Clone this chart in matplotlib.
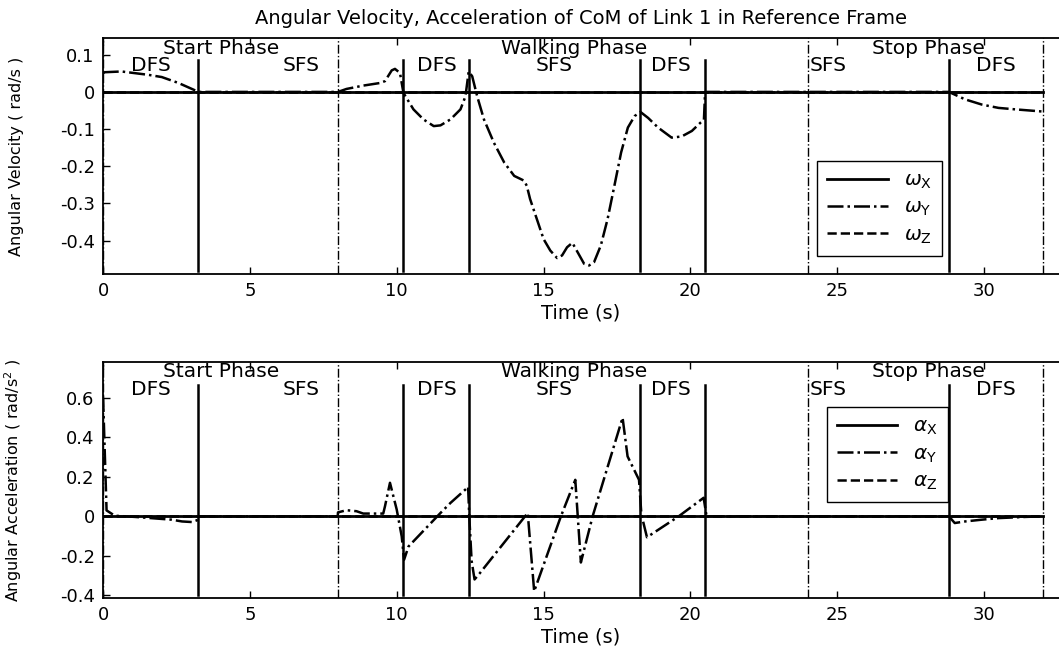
"""
Angular velocity / acceleration of the CoM of link 1,
redrawn from a scanned MATLAB figure.
"""

import matplotlib
matplotlib.use("Agg")
import matplotlib.pyplot as plt


OUT_FILE = "out.png"

# --- data ---------------------------------------------------------------
# zero traces (x and z components)
t_flat = [0.0, 32.0]
w_x = [0.0, 0.0]
w_z = [0.0, 0.0]
a_x = [0.0, 0.0]
a_z = [0.0, 0.0]

# omega_Y (rad/s)
t_wy = [0.0, 0.06, 0.63, 1.54, 2.0, 2.57, 3.14, 3.25, 8.0, 8.29, 8.86,
        9.43, 9.6, 9.83, 9.94, 10.11, 10.23, 10.57, 10.91, 11.26, 11.49,
        11.83, 12.17, 12.34, 12.45, 12.57, 12.74, 12.97, 13.31, 13.66,
        14.0, 14.34, 14.43, 14.54, 14.77, 15.0, 15.23, 15.46, 15.63, 15.8,
        15.98, 16.15, 16.38, 16.55, 16.72, 16.95, 17.18, 17.41, 17.64,
        17.87, 18.1, 18.3, 18.56, 18.9, 19.36, 19.7, 20.05, 20.34, 20.46,
        20.5, 28.8, 29.35, 29.92, 30.49, 31.07, 31.87, 32.0]
w_y = [0.05, 0.053, 0.055, 0.046, 0.040, 0.024, 0.004, 0.0, 0.0, 0.008,
       0.017, 0.024, 0.029, 0.058, 0.062, 0.051, -0.003, -0.047, -0.074,
       -0.092, -0.090, -0.074, -0.047, -0.012, 0.055, 0.042, -0.012,
       -0.074, -0.137, -0.19, -0.226, -0.239, -0.253, -0.288, -0.342,
       -0.396, -0.427, -0.447, -0.44, -0.418, -0.406, -0.43, -0.4625,
       -0.467, -0.458, -0.413, -0.342, -0.253, -0.163, -0.096, -0.065,
       -0.054, -0.07, -0.096, -0.123, -0.12, -0.105, -0.083, -0.075, 0.0,
       0.0, -0.02, -0.034, -0.043, -0.047, -0.052, -0.053]

# alpha_Y (rad/s^2)
t_ay = [0.0, 0.12, 0.4, 1.09, 1.89, 2.34, 2.69, 3.03, 3.2, 3.25, 7.99,
        8.0, 8.29, 8.63, 8.86, 9.2, 9.54, 9.6, 9.77, 10.0, 10.17, 10.25,
        10.4, 11.49, 11.83, 12.34, 12.43, 12.47, 12.55, 12.65, 12.82,
        14.46, 14.68, 15.59, 16.08, 16.27, 16.67, 17.69, 17.86, 18.25,
        18.33, 18.52, 19.6, 20.45, 20.55, 28.8, 29.0, 29.35, 29.92, 30.49,
        31.4, 32.0]
a_y = [0.61, 0.03, 0.003, -0.003, -0.012, -0.017, -0.026, -0.029, -0.02,
       0.0, 0.0, 0.02, 0.031, 0.026, 0.014, 0.014, 0.014, 0.051, 0.17,
       0.034, -0.102, -0.22, -0.153, 0.017, 0.068, 0.136, 0.15, 0.0,
       -0.226, -0.32, -0.29, 0.017, -0.38, 0.0, 0.185, -0.234, 0.0, 0.5,
       0.304, 0.185, 0.01, -0.106, 0.0, 0.094, 0.0, 0.0, -0.034, -0.026,
       -0.017, -0.009, -0.003, 0.0]

# phase boundaries and labels
phase_lines = [0.0, 8.0, 24.0, 32.0]
step_lines = [3.25, 10.23, 12.45, 18.3, 20.5, 28.8]
phase_names = ["Start Phase", "Walking Phase", "Stop Phase"]
phase_x = [4.03, 16.05, 28.1]
step_names = ["DFS", "SFS", "DFS", "SFS", "DFS", "SFS", "DFS"]
step_x = [1.62, 6.75, 11.35, 15.37, 19.34, 24.68, 30.4]

x_ticks = [0, 5, 10, 15, 20, 25, 30]
vel_ticks = [-0.4, -0.3, -0.2, -0.1, 0, 0.1]
acc_ticks = [-0.4, -0.2, 0, 0.2, 0.4, 0.6]


def fmt(v):
    return "0" if v == 0 else f"{v:g}"


def style_axes(ax, ylim, yticks):
    ax.set_xlim(0, 32.55)
    ax.set_ylim(*ylim)
    ax.set_xticks(x_ticks)
    ax.set_xticklabels([str(v) for v in x_ticks])
    ax.set_yticks(yticks)
    ax.set_yticklabels([fmt(v) for v in yticks])
    ax.tick_params(direction="in", length=5, width=1, labelsize=13,
                   top=True, pad=6)
    ax.spines["right"].set_visible(False)
    for s in ("left", "top", "bottom"):
        ax.spines[s].set_linewidth(1.3)
    ax.set_xlabel("Time (s)", fontsize=14, labelpad=2)


def draw_phases(ax, step_lo, step_hi, name_y, step_y):
    for x in phase_lines:
        ax.axvline(x, color="black", lw=1.0, ls="-.", zorder=1)
    for x in step_lines:
        ax.plot([x, x], [step_lo, step_hi], color="black", lw=1.8, zorder=1)
    for name, x in zip(phase_names, phase_x):
        ax.text(x, name_y, name, ha="center", va="center", fontsize=14.5)
    for name, x in zip(step_names, step_x):
        ax.text(x, step_y, name, ha="center", va="center", fontsize=14.5)


def add_legend(ax, anchor):
    ax.legend(loc="upper left", bbox_to_anchor=anchor, borderaxespad=0,
              fontsize=14.5, frameon=True, fancybox=False,
              edgecolor="black", framealpha=1, handlelength=3.0,
              labelspacing=0.35, borderpad=0.5)


def main() -> None:
    fig = plt.figure(figsize=(10.59, 6.49), dpi=100)
    ax1 = fig.add_axes([0.0973, 0.5778, 0.9027, 0.3636])
    ax2 = fig.add_axes([0.0973, 0.0786, 0.9027, 0.3641])

    # top: angular velocity
    style_axes(ax1, (-0.49, 0.145), vel_ticks)
    draw_phases(ax1, -0.481, 0.0865, 0.118, 0.0705)
    ax1.plot(t_flat, w_x, color="black", lw=2.0, ls="-",
             label=r"$\omega_\mathrm{X}$", zorder=3)
    ax1.plot(t_wy, w_y, color="black", lw=1.8, ls="-.",
             label=r"$\omega_\mathrm{Y}$", zorder=3)
    ax1.plot(t_flat, w_z, color="black", lw=1.8, ls="--",
             label=r"$\omega_\mathrm{Z}$", zorder=2)
    ax1.set_ylabel("Angular Velocity ( rad/s )", fontsize=11.5)
    ax1.yaxis.set_label_coords(-0.083, 0.5)
    add_legend(ax1, (0.747, 0.48))
    ax1.set_title("Angular Velocity, Acceleration of CoM of Link 1 "
                  "in Reference Frame", fontsize=14, pad=10)

    # bottom: angular acceleration
    style_axes(ax2, (-0.414, 0.784), acc_ticks)
    draw_phases(ax2, -0.397, 0.668, 0.736, 0.644)
    ax2.plot(t_flat, a_x, color="black", lw=2.0, ls="-",
             label=r"$\alpha_\mathrm{X}$", zorder=3)
    ax2.plot(t_ay, a_y, color="black", lw=1.8, ls="-.",
             label=r"$\alpha_\mathrm{Y}$", zorder=3)
    ax2.plot(t_flat, a_z, color="black", lw=1.8, ls="--",
             label=r"$\alpha_\mathrm{Z}$", zorder=2)
    ax2.set_ylabel(r"Angular Acceleration ( rad/s$^2$ )", fontsize=11.5)
    ax2.yaxis.set_label_coords(-0.083, 0.5)
    add_legend(ax2, (0.757, 0.808))

    fig.savefig(OUT_FILE, dpi=100)
    plt.close(fig)


if __name__ == "__main__":
    main()
